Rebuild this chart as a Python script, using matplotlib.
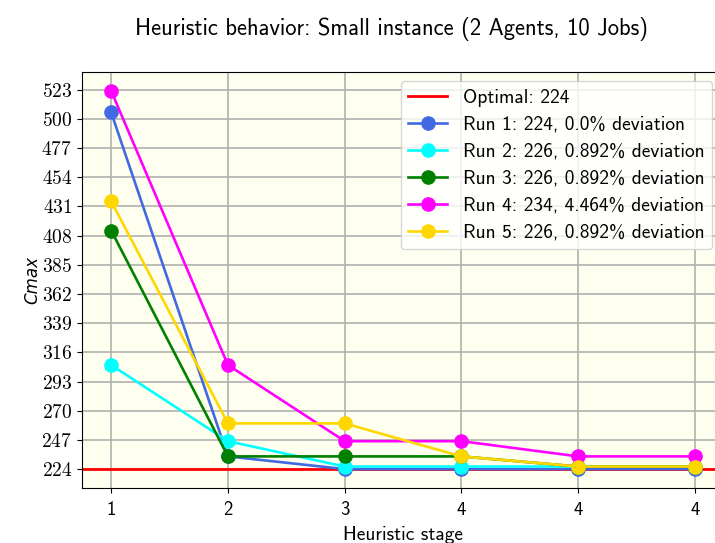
import matplotlib
matplotlib.use("Agg")
import matplotlib.pyplot as plt
import numpy as np

plt.rcParams['font.family'] = ['cmss10', 'DejaVu Sans']
plt.rcParams['axes.unicode_minus'] = False
plt.rcParams['mathtext.fontset'] = 'cm'

title = "Heuristic behavior: Small instance (2 Agents, 10 Jobs)"
stage_labels = ['1', '2', '3', '4', '4', '4']
optimal = 224
run_names = ["Run 1: 224, 0.0% deviation",
             "Run 2: 226, 0.892% deviation",
             "Run 3: 226, 0.892% deviation",
             "Run 4: 234, 4.464% deviation",
             "Run 5: 226, 0.892% deviation"]
run1 = [505, 234, 224, 224, 224, 224]
run2 = [306, 246, 226, 226, 226, 226]
run3 = [412, 234, 234, 234, 226, 226]
run4 = [522, 306, 246, 246, 234, 234]
run5 = [435, 260, 260, 234, 226, 226]
runs = [run1, run2, run3, run4, run5]
colors = ['royalblue', 'cyan', 'green', 'magenta', 'gold']
yticks = list(range(224, 530, 23))

fig = plt.figure(figsize=(7.15, 5.43), dpi=100)
ax = fig.add_axes([0.1147, 0.1013, 0.898, 0.7661])
ax.set_facecolor('#fffff0')
x = np.arange(len(stage_labels))

ax.axhline(optimal, color='red', lw=2.0, label=f"Optimal: {optimal}", zorder=2)
for r, c, n in zip(runs, colors, run_names):
    ax.plot(x, r, color=c, lw=1.9, marker='o', markersize=9.5, label=n, zorder=3)

ax.set_xticks(x)
ax.set_xticklabels(stage_labels, fontsize=13.5)
ax.set_yticks(yticks)
ax.set_yticklabels([f"${v}$" for v in yticks], fontsize=14)
ax.tick_params(axis='x', pad=6)
ax.set_xlim(-0.25, 5.25)
ax.set_ylim(209.1, 536.9)
ax.grid(True, color='#b0b0b0', lw=1.2)
ax.set_axisbelow(True)

ax.set_xlabel("Heuristic stage", fontsize=14, labelpad=5)
ax.set_ylabel("Cmax", fontsize=12, family='DejaVu Sans', style='italic', labelpad=0)
fig.suptitle(title, fontsize=16.3, x=0.547, y=0.968)

ax.legend(loc='upper right', bbox_to_anchor=(0.9905, 0.992), fontsize=14,
          framealpha=0.8, handlelength=2.0, borderaxespad=0.3, labelspacing=0.46)

fig.savefig("out.png", dpi=100)
